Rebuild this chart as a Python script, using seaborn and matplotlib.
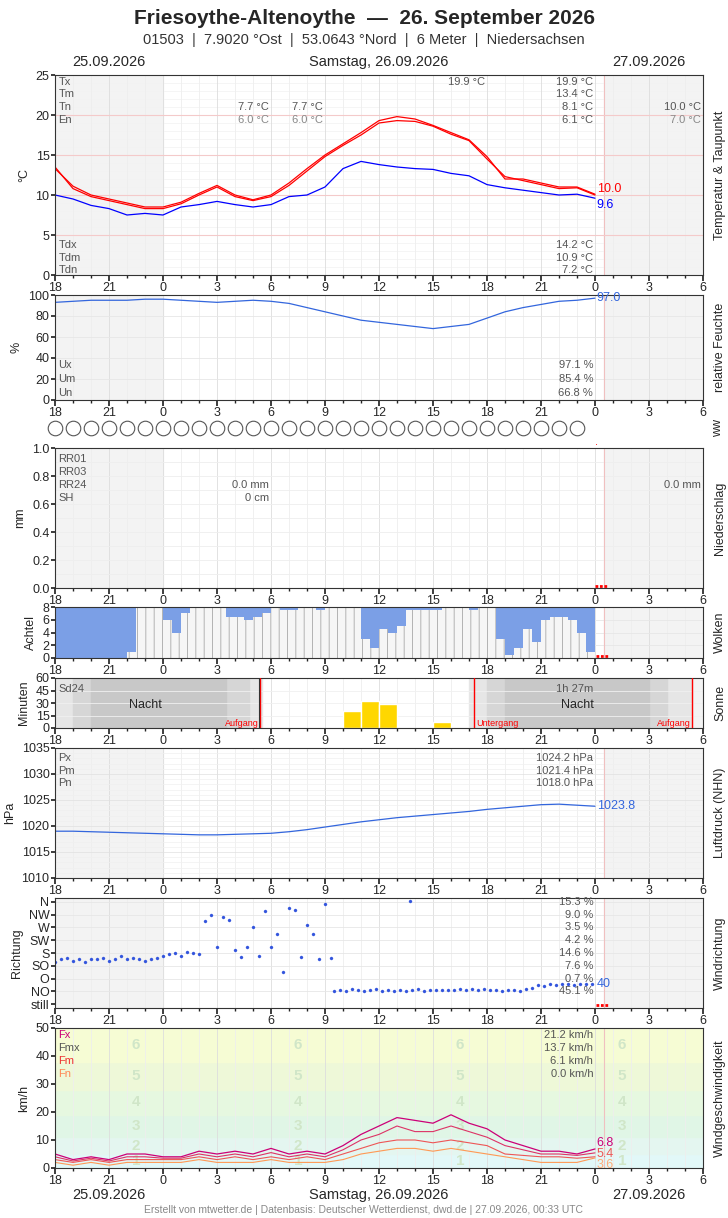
import numpy as np
import pandas as pd
import matplotlib
matplotlib.use("Agg")
import matplotlib.pyplot as plt
import seaborn as sns

sns.set_theme(style="white")
plt.rcParams['font.family'] = ['Liberation Sans', 'DejaVu Sans']
plt.rcParams['hatch.linewidth'] = 0.6

hours = list(range(31))  # offsets from 25.09 18:00
temp = [13.5,10.8,9.8,9.3,8.8,8.3,8.3,8.9,10.0,11.0,9.8,9.3,9.8,11.2,13.0,14.8,16.2,17.5,19.0,19.3,19.2,18.6,17.6,16.8,14.5,12.3,11.8,11.3,10.8,10.9,10.0]
temp2 = [13.3,11.1,10.0,9.5,9.0,8.5,8.5,9.1,10.2,11.2,10.0,9.4,10.0,11.5,13.3,15.0,16.4,17.8,19.3,19.8,19.5,18.7,17.8,16.9,14.8,12.0,12.0,11.5,11.0,11.0,10.1]
dew = [10.0,9.5,8.7,8.3,7.5,7.7,7.5,8.5,8.8,9.2,8.8,8.5,8.8,9.8,10.0,11.0,13.3,14.2,13.8,13.5,13.3,13.2,12.7,12.4,11.3,10.9,10.6,10.3,10.0,10.1,9.6]
humid = [93,94,95,95,95,96,96,95,94,93,94,95,94,92,88,84,80,76,74,72,70,68,70,72,78,84,88,91,94,95,97]
press = [1019.0,1019.0,1018.9,1018.8,1018.7,1018.6,1018.5,1018.4,1018.3,1018.3,1018.4,1018.5,1018.6,1018.9,1019.3,1019.8,1020.3,1020.8,1021.2,1021.6,1021.9,1022.2,1022.5,1022.8,1023.2,1023.5,1023.8,1024.1,1024.2,1024.0,1023.8]
gust = [5,3,4,3,5,5,4,4,6,5,6,5,7,5,6,5,8,12,15,18,17,16,19,16,14,10,8,6,6,5,6.8]
wmax = [4,2.5,3.5,2.5,4,4,3.5,3.5,5,4,5,4,5.5,4,5,4,6.5,10,12,15,13,13,15,13,11,8,6.5,5,5,4.5,5.4]
wmean = [3,2,3,2,3,3,3,3,4,3,4,3,4,3,4,3,5,7,9,10,10,9,10,9,8,5,4.5,4,4,3.5,4.0]
wmin = [2,1,2,1,2,2,2,2,3,2,2,2,3,2,2,2,3,5,6,7,7,6,7,6,5,4,3,2,2,2,3.6]
cloud_times = [i * 0.5 for i in range(60)]
clear = [0,0,0,0,0,0,0,0,1,8,8,8,6,4,7,8,8,8,8,6.5,6.5,6,6.5,7,8,7.5,7.5,8,8,7.5,
         8,8,8,8,3,1.5,4.5,4,5,7.5,7.5,7.5,7.5,8,8,8,7.5,8,8,3,0.5,1.5,4.5,2.5,6,6.5,6.5,6,4,1]
sun_hours = [16.5, 17.5, 18.5, 21.5]
sun_min = [20, 32, 29, 7]
dir_times_a = [i / 3 for i in range(47)]
dir_a = [3.3,3.5,3.6,3.4,3.5,3.3,3.5,3.5,3.6,3.4,3.5,3.8,3.5,3.6,3.5,3.4,3.5,3.6,3.8,3.9,4.0,3.8,4.1,4.0,3.9,
         6.5,7.0,4.5,6.8,6.6,4.2,3.7,4.5,6.0,3.8,7.3,4.5,5.5,2.5,7.5,7.4,3.7,6.2,5.5,3.5,7.8,3.6]
dir_times_b = [15.5 + i / 3 for i in range(44)]
dir_b = [1.0,1.1,1.0,1.2,1.1,1.0,1.1,1.2,1.0,1.1,1.0,1.1,1.0,1.1,1.2,1.0,1.1,1.1,1.1,1.1,1.1,1.2,1.1,1.2,
         1.1,1.2,1.1,1.1,1.0,1.1,1.1,1.0,1.2,1.3,1.5,1.4,1.6,1.5,1.6,1.6,1.5,1.6,1.6,1.6]
dir_labels = ['still','NO','O','SO','S','SW','W','NW','N']
tick_labels = ['18','21','0','3','6','9','12','15','18','21','0','3','6']

W, H = 728, 1218
fig = plt.figure(figsize=(W/100, H/100), dpi=100)

def mk(top, bot):
    ax = fig.add_axes([55/W, 1-bot/H, 648/W, (bot-top)/H])
    ax.set_xlim(0, 36)
    ax.set_xticks(range(0, 37, 3))
    ax.set_xticklabels(tick_labels, fontsize=9)
    ax.set_xticks(range(37), minor=True)
    ax.tick_params(axis='x', which='major', length=4, pad=1, direction='out', bottom=True)
    ax.tick_params(axis='x', which='minor', length=2, bottom=True)
    ax.tick_params(axis='y', labelsize=9, pad=1, left=True, length=3)
    ax.axvspan(0, 6, color='#f3f3f3', zorder=0)
    ax.axvspan(30.5, 36, color='#f3f3f3', zorder=0)
    for x in range(0, 37):
        ax.axvline(x, color='#eeeeee' if x % 3 else '#dddddd', lw=0.6, zorder=0.5)
    ax.axvline(30.5, color='#f0c0c0', lw=0.8, zorder=0.6)
    for s in ax.spines.values():
        s.set_color('#333333'); s.set_linewidth(0.8)
    return ax

def rlabel(ax, txt):
    ax.text(1.017, 0.5, txt, transform=ax.transAxes, rotation=90, va='center', ha='left', fontsize=9)

fig.text(0.5, 1-18/H, 'Friesoythe-Altenoythe  —  26. September 2026', ha='center', va='center', fontsize=15, fontweight='bold')
fig.text(0.5, 1-40/H, '01503  |  7.9020 °Ost  |  53.0643 °Nord  |  6 Meter  |  Niedersachsen', ha='center', va='center', fontsize=10.5, color='#333333')
for y in (62, 1195):
    fig.text(109/W, 1-y/H, '25.09.2026', ha='center', va='center', fontsize=10.5)
    fig.text(379/W, 1-y/H, 'Samstag, 26.09.2026', ha='center', va='center', fontsize=10.5)
    fig.text(649/W, 1-y/H, '27.09.2026', ha='center', va='center', fontsize=10.5)
fig.text(0.5, 1-1210/H, 'Erstellt von mtwetter.de | Datenbasis: Deutscher Wetterdienst, dwd.de | 27.09.2026, 00:33 UTC', ha='center', va='center', fontsize=7.5, color='#888888')

gs = dict(fontsize=8, color='#555555')
# Temperature
ax = mk(75, 275)
ax.set_ylim(0, 25); ax.set_yticks(range(0, 26, 5))
for y in range(5, 25, 5): ax.axhline(y, color='#f4caca', lw=0.8, zorder=0.6)
for y in range(1, 25): ax.axhline(y, color='#f2f2f2', lw=0.5, zorder=0.4)
df = pd.DataFrame(dict(h=hours, t=temp, t2=temp2, d=dew))
sns.lineplot(data=df, x='h', y='t2', color='red', lw=0.9, ax=ax)
sns.lineplot(data=df, x='h', y='t', color='red', lw=0.9, ax=ax)
sns.lineplot(data=df, x='h', y='d', color='blue', lw=0.9, ax=ax)
ax.set_xlabel(''); ax.set_ylabel('°C', fontsize=9)
ax.text(30.1, 10.8, '10.0', color='red', fontsize=9, va='center')
ax.text(30.1, 8.8, '9.6', color='blue', fontsize=9, va='center')
for i, (k, v) in enumerate([('Tx','19.9 °C'),('Tm','13.4 °C'),('Tn','8.1 °C'),('En','6.1 °C')]):
    ax.text(0.2, 23.8-1.6*i, k, **gs)
    ax.text(29.9, 23.8-1.6*i, v, ha='right', **gs)
for i, (k, v) in enumerate([('Tdx','14.2 °C'),('Tdm','10.9 °C'),('Tdn','7.2 °C')]):
    ax.text(0.2, 3.4-1.6*i, k, **gs)
    ax.text(29.9, 3.4-1.6*i, v, ha='right', **gs)
ax.text(23.9, 23.8, '19.9 °C', ha='right', **gs)
for x in (11.9, 14.9):
    ax.text(x, 20.6, '7.7 °C', ha='right', **gs); ax.text(x, 19.0, '6.0 °C', ha='right', color='#888888', fontsize=8)
ax.text(35.9, 20.6, '10.0 °C', ha='right', **gs); ax.text(35.9, 19.0, '7.0 °C', ha='right', color='#888888', fontsize=8)
rlabel(ax, 'Temperatur & Taupunkt')

# Humidity
ax = mk(295, 400)
ax.set_ylim(0, 100); ax.set_yticks(range(0, 101, 20))
for y in range(20, 100, 20): ax.axhline(y, color='#e6e6e6', lw=0.6, zorder=0.5)
sns.lineplot(x=hours, y=humid, color='#3366dd', lw=0.9, ax=ax)
ax.set_ylabel('%', fontsize=9)
ax.text(30.1, 97, '97.0', color='#3366dd', fontsize=9, va='center')
for i, (k, v) in enumerate([('Ux','97.1 %'),('Um','85.4 %'),('Un','66.8 %')]):
    ax.text(0.2, 33-13*i, k, va='center', **gs)
    ax.text(29.9, 33-13*i, v, ha='right', va='center', **gs)
rlabel(ax, 'relative Feuchte')

# ww circles
axw = fig.add_axes([55/W, 1-440/H, 648/W, 24/H])
axw.set_xlim(0, 36); axw.set_ylim(0, 1); axw.axis('off')
sc = sns.scatterplot(x=list(range(30)), y=[0.5]*30, s=110, facecolor='white', edgecolor='#555555', linewidth=0.8, ax=axw, legend=False)
for c in axw.collections: c.set_clip_on(False)
fig.text(712/W, 1-428/H, 'ww', rotation=90, va='center', ha='left', fontsize=9)

# Precipitation
ax = mk(448, 588)
ax.set_ylim(0, 1); ax.set_yticks(np.arange(0, 1.01, 0.2))
ax.set_yticklabels(['0.0','0.2','0.4','0.6','0.8','1.0'])
for y in np.arange(0.1, 1, 0.1): ax.axhline(y, color='#eeeeee', lw=0.6, zorder=0.5)
ax.set_ylabel('mm', fontsize=9)
ax.plot([30.0, 30.75], [0.015, 0.015], color='red', lw=2, ls=(0, (1, 0.6)))
for i, k in enumerate(['RR01','RR03','RR24','SH']):
    ax.text(0.2, 0.92-0.092*i, k, va='center', **gs)
ax.text(11.9, 0.736, '0.0 mm', ha='right', va='center', **gs)
ax.text(11.9, 0.644, '0 cm', ha='right', va='center', **gs)
ax.text(35.9, 0.736, '0.0 mm', ha='right', va='center', **gs)
ax.text(30.0, 1.02, '.', color='red', fontsize=8)
rlabel(ax, 'Niederschlag')

# Clouds
ax = mk(607, 658)
ax.set_ylim(0, 8); ax.set_yticks(range(0, 9, 2))
for y in range(2, 8, 2): ax.axhline(y, color='#e6e6e6', lw=0.6, zorder=0.5)
ax.bar(cloud_times, [8]*60, width=0.5, align='edge', color='#7b9fe6', lw=0, zorder=1)
ax.bar(cloud_times, clear, width=0.5, align='edge', color='#f6f6f6', edgecolor='#a8a8a8', lw=0, hatch='||', zorder=2)
ax.plot([30.05, 30.75], [0.25, 0.25], color='red', lw=2, ls=(0, (1, 0.6)))
ax.set_ylabel('Achtel', fontsize=9)
rlabel(ax, 'Wolken')

# Sunshine
ax = mk(678, 728)
ax.set_ylim(0, 60); ax.set_yticks([0, 15, 30, 45, 60])
for (a, b, c) in [(0, 11.5, '#e6e6e6'), (1.0, 10.8, '#d6d6d6'), (2.0, 9.5, '#c8c8c8'),
                  (23.0, 35.4, '#e6e6e6'), (24.0, 34.0, '#d6d6d6'), (25.0, 33.0, '#c8c8c8')]:
    ax.axvspan(a, b, color=c, zorder=0.7)
for y in (15, 30, 45): ax.axhline(y, color='#f0f0f0', lw=0.6, zorder=0.8)
ax.bar(sun_hours, sun_min, width=1.0, color='#ffd700', zorder=2)
for x in (11.4, 23.3, 35.4): ax.axvline(x, color='red', lw=1, zorder=3)
ax.axvline(11.35, color='#333333', lw=0.8, zorder=3)
ax.text(5, 28, 'Nacht', ha='center', va='center', fontsize=9)
ax.text(29, 28, 'Nacht', ha='center', va='center', fontsize=9)
ax.text(11.3, 3, 'Aufgang', color='red', fontsize=6.5, ha='right')
ax.text(23.4, 3, 'Untergang', color='red', fontsize=6.5, ha='left')
ax.text(35.3, 3, 'Aufgang', color='red', fontsize=6.5, ha='right')
ax.text(0.2, 47, 'Sd24', va='center', **gs)
ax.text(29.9, 47, '1h 27m', ha='right', va='center', **gs)
ax.set_ylabel('Minuten', fontsize=9)
rlabel(ax, 'Sonne')

# Pressure
ax = mk(748, 878)
ax.set_ylim(1010, 1035); ax.set_yticks(range(1010, 1036, 5))
for y in range(1011, 1035): ax.axhline(y, color='#f0f0f0' if y % 5 else '#e0e0e0', lw=0.5, zorder=0.5)
sns.lineplot(x=hours, y=press, color='#3366dd', lw=0.9, ax=ax)
ax.text(30.1, 1023.8, '1023.8', color='#3366dd', fontsize=9, va='center')
for i, (k, v) in enumerate([('Px','1024.2 hPa'),('Pm','1021.4 hPa'),('Pn','1018.0 hPa')]):
    ax.text(0.2, 1033-2.4*i, k, va='center', **gs)
    ax.text(29.9, 1033-2.4*i, v, ha='right', va='center', **gs)
ax.set_ylabel('hPa', fontsize=9)
rlabel(ax, 'Luftdruck (NHN)')

# Wind direction
ax = mk(898, 1008)
ax.set_ylim(-0.3, 8.3); ax.set_yticks(range(9)); ax.set_yticklabels(dir_labels)
for y in range(1, 9): ax.axhline(y, color='#e6e6e6', lw=0.6, zorder=0.5)
sns.scatterplot(x=dir_times_a + dir_times_b, y=dir_a + dir_b, s=5, color='#3355dd', edgecolor=None, ax=ax, legend=False)
sns.scatterplot(x=[19.7], y=[8.1], s=5, color='#3355dd', edgecolor=None, ax=ax, legend=False)
pct = ['15.3 %','9.0 %','3.5 %','4.2 %','14.6 %','7.6 %','0.7 %','45.1 %']
for i, p in enumerate(pct):
    ax.text(29.9, 8 - i, p, ha='right', va='center', **gs)
ax.text(30.1, 1.6, '40', color='#3366dd', fontsize=9, va='center')
ax.plot([30.05, 30.75], [-0.1, -0.1], color='red', lw=2, ls=(0, (1, 0.6)))
ax.set_ylabel('Richtung', fontsize=9)
rlabel(ax, 'Windrichtung')

# Wind speed
ax = mk(1028, 1168)
ax.set_ylim(0, 50); ax.set_yticks(range(0, 51, 10))
bands = [(0, 5, '#e2f8f8'), (5, 11, '#e4f6f0'), (11, 19, '#e0f6e6'), (19, 28, '#e6f8e0'), (28, 38, '#eef8d8'), (38, 50, '#f6fcd4')]
for i, (a, b, c) in enumerate(bands):
    ax.axhspan(a, b, color=c, zorder=0.3)
    for x in (4.5, 13.5, 22.5, 31.5):
        ax.text(x, (a+b)/2, str(i+1), ha='center', va='center', fontsize=11, fontweight='bold', color='#d0e6c8', zorder=0.4)
sns.lineplot(x=hours, y=gust, color='#cc0077', lw=0.9, ax=ax)
sns.lineplot(x=hours, y=wmax, color='#dd3366', lw=0.8, ax=ax)
sns.lineplot(x=hours, y=wmean, color='#ee5555', lw=0.8, ax=ax)
sns.lineplot(x=hours, y=wmin, color='#ff9955', lw=0.8, ax=ax)
ax.text(30.1, 8.8, '6.8', color='#cc0077', fontsize=9, va='center')
ax.text(30.1, 5.0, '5.4', color='#ee5555', fontsize=9, va='center')
ax.text(30.1, 1.2, '3.6', color='#ffaa77', fontsize=9, va='center')
for i, (k, v, c) in enumerate([('Fx','21.2 km/h','#cc0077'),('Fmx','13.7 km/h','#555555'),('Fm','6.1 km/h','#ee3333'),('Fn','0.0 km/h','#ff8855')]):
    ax.text(0.2, 47.5-4.6*i, k, va='center', fontsize=8, color=c)
    ax.text(29.9, 47.5-4.6*i, v, ha='right', va='center', **gs)
ax.set_ylabel('km/h', fontsize=9)
rlabel(ax, 'Windgeschwindigkeit')

fig.savefig('out.png', dpi=100)
